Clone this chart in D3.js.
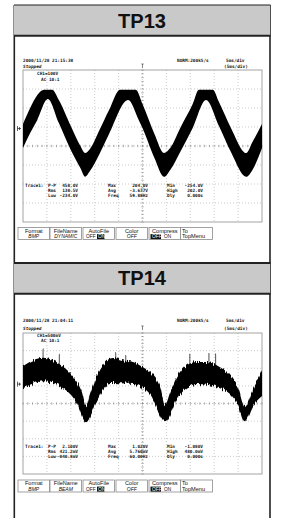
<!DOCTYPE html>
<html>
<head>
<meta charset="utf-8">
<script src="https://cdn.jsdelivr.net/npm/d3@7"></script>
<style>
body { margin: 0; background: #fff; }
svg text { font-family: "DejaVu Sans Mono", monospace; fill: #111; }
.scr text { font-weight: bold; }
.key text { font-family: "Liberation Sans", Arial, sans-serif; }
</style>
</head>
<body>
<div id="chart"></div>
<script>
var timeDomain = [0, 50];           // ms, 10 div x 5 ms/div
var titles = ["TP13", "TP14"];
var dates = ["2000/11/28 21:15:38", "2000/11/28 21:04:11"];
var chLabels = ["CH1=100V", "CH1=500mV"];
var voltsPerDiv = [100, 0.5];

// TP13 band, upper and lower edge (ms, V)
var tp13UpperT = [0, 1.5, 3, 4.4, 6.1, 7.5, 10, 12, 13, 14, 16, 18, 20.3, 23.6, 25, 27.5, 29.5, 30.8, 33, 35.5, 36.8, 39.7, 41, 43.5, 46.7, 48, 50];
var tp13UpperV = [24, 108, 176, 204, 204, 150, 13, -92, -129, -108, -8, 97, 204, 204, 129, -29, -129, -103, 8, 129, 204, 204, 139, 3, -129, -71, 24];
var tp13LowerT = [0, 1.5, 3, 5.2, 7.5, 10, 12, 13, 14, 16, 18, 22, 24.2, 25, 27.5, 29.5, 30.8, 33, 35.5, 38.3, 41, 43.5, 46.7, 48, 50];
var tp13LowerV = [-103, -24, 45, 155, 29, -113, -208, -254, -224, -134, -29, 150, 45, 3, -155, -254, -218, -118, 3, 150, 13, -124, -254, -218, -103];

// TP14 band, upper and lower edge (ms, V)
var tp14UpperT = [0, 2.1, 4.2, 6.3, 8.4, 10.5, 12.3, 13.2, 14.0, 15.5, 16.7, 18.8, 20.9, 23.0, 25.1, 27.2, 28.7, 29.7, 30.8, 32.2, 34.3, 36.4, 38.5, 41.2, 43.3, 45.0, 46.4, 47.9, 50];
var tp14UpperV = [0.51, 0.68, 0.75, 0.68, 0.49, 0.21, -0.22, -0.63, -0.31, 0.26, 0.54, 0.74, 0.68, 0.63, 0.48, 0.26, -0.09, -0.60, -0.23, 0.20, 0.54, 0.63, 0.63, 0.48, 0.26, -0.11, -0.65, -0.23, 0.40];
var tp14LowerT = [0, 4.2, 8.4, 11.3, 13.2, 15.1, 18.2, 23.0, 26.6, 29.7, 32.2, 36.4, 41.2, 44.8, 46.4, 48.1, 50];
var tp14LowerV = [-0.12, 0.08, -0.12, -0.54, -1.08, -0.57, 0.03, 0.0, -0.29, -1.08, -0.43, 0.0, -0.12, -0.54, -1.08, -0.63, -0.34];
// tall glitches above the TP14 band (ms, V)
var tp14SpikeT = [4.2, 7.6, 19.4, 21.5, 34.9, 38.9, 40.3];
var tp14SpikeV = [1.02, 0.86, 0.88, 0.84, 0.86, 0.91, 0.84];

// measurement readouts
var statNames = [["P-P", "Max", "Min"], ["Rms", "Avg", "High"], ["Low", "Freq", "Dly"]];
var tp13Stats = [["458.0V", "204.0V", "-254.0V"], ["138.5V", "-3.677V", "202.0V"], ["-234.0V", "59.88Hz", "0.000s"]];
var tp14Stats = [["2.100V", "1.020V", "-1.080V"], ["421.2mV", "5.760mV", "480.0mV"], ["-840.8mV", "60.00Hz", "0.000s"]];

// soft key menu
var keyTop = ["Format", "FileName", "AutoFile", "Color", "Compress", "To"];
var keyBottom13 = ["BMP", "DYNAMIC", "", "OFF", "", "TopMenu"];
var keyBottom14 = ["BMP", "BEAM", "", "OFF", "", "TopMenu"];

// ---- drawing ----
var W = 287, H = 518;
var svg = d3.select("#chart").append("svg")
    .attr("width", W)
    .attr("height", H);

svg.append("rect").attr("width", W).attr("height", H).attr("fill", "#fff");

var defs = svg.append("defs");
var noise = defs.append("filter")
    .attr("id", "fuzz")
    .attr("x", "-5%").attr("y", "-30%")
    .attr("width", "110%").attr("height", "160%");
noise.append("feTurbulence")
    .attr("type", "fractalNoise")
    .attr("baseFrequency", "0.9 0.03")
    .attr("numOctaves", 2)
    .attr("seed", 4)
    .attr("result", "n");
noise.append("feColorMatrix")
    .attr("in", "n")
    .attr("type", "matrix")
    .attr("values", "0 0 0 0 0.5  0 1 0 0 0  0 0 0 0 0  0 0 0 0 1")
    .attr("result", "m");
noise.append("feDisplacementMap")
    .attr("in", "SourceGraphic")
    .attr("in2", "m")
    .attr("scale", 8)
    .attr("xChannelSelector", "R")
    .attr("yChannelSelector", "G");

var panels = [
    {
        bandTop: 5, bandBottom: 35, titleY: 28,
        gx0: 23, gx1: 262, gy0: 70, gy1: 222, gndDiv: 0.92,
        headY: [62, 67.5], chY: [75, 81], statY: [187, 192, 197], keyY: [227.5, 239.5],
        upper: d3.zip(tp13UpperT, tp13UpperV), lower: d3.zip(tp13LowerT, tp13LowerV),
        spikes: [], stats: tp13Stats, keyBottom: keyBottom13, fuzzy: false
    },
    {
        bandTop: 263, bandBottom: 293, titleY: 285,
        gx0: 23, gx1: 262, gy0: 333, gy1: 474, gndDiv: 1.1,
        headY: [322, 329.5], chY: [336.5, 342], statY: [447.5, 452.5, 457.5], keyY: [480, 492],
        upper: d3.zip(tp14UpperT, tp14UpperV), lower: d3.zip(tp14LowerT, tp14LowerV),
        spikes: d3.zip(tp14SpikeT, tp14SpikeV), stats: tp14Stats, keyBottom: keyBottom14, fuzzy: true
    }
];

// outer frame
svg.append("line").attr("x1", 14.3).attr("x2", 14.3).attr("y1", 5).attr("y2", H)
    .attr("stroke", "#222").attr("stroke-width", 1.6);
svg.append("line").attr("x1", 270).attr("x2", 270).attr("y1", 5).attr("y2", H)
    .attr("stroke", "#222").attr("stroke-width", 1.6);

panels.forEach(function(p, i) {
    var g = svg.append("g");

    // title band
    g.append("rect")
        .attr("x", 14).attr("y", p.bandTop)
        .attr("width", 256).attr("height", p.bandBottom - p.bandTop)
        .attr("fill", "#c9c9c9");
    g.append("line").attr("x1", 14).attr("x2", 270.5)
        .attr("y1", p.bandTop).attr("y2", p.bandTop)
        .attr("stroke", "#222").attr("stroke-width", i == 0 ? 1.2 : 2);
    g.append("line").attr("x1", 14).attr("x2", 270.5)
        .attr("y1", p.bandBottom + 0.8).attr("y2", p.bandBottom + 0.8)
        .attr("stroke", "#222").attr("stroke-width", 2);
    g.append("text")
        .attr("x", 118).attr("y", p.titleY)
        .attr("textLength", 48).attr("lengthAdjust", "spacingAndGlyphs")
        .style("font-family", "'Liberation Sans Narrow', 'Liberation Sans', Arial, sans-serif")
        .style("font-weight", "bold")
        .style("font-size", "21px")
        .text(titles[i]);

    var x = d3.scaleLinear().domain(timeDomain).range([p.gx0, p.gx1]);
    var div = d3.scaleLinear().domain([-4, 4]).range([p.gy1, p.gy0]);
    var vd = voltsPerDiv[i];
    var y = d3.scaleLinear()
        .domain([-(4 + p.gndDiv) * vd, (4 - p.gndDiv) * vd])
        .range([p.gy1, p.gy0]);

    // grid
    var grid = g.append("g").attr("stroke", "#b5b5b5").attr("stroke-width", 0.7)
        .attr("stroke-dasharray", "1,2");
    grid.selectAll(".vl").data(d3.range(5, 50, 5)).enter().append("line")
        .attr("x1", function(d) { return x(d); }).attr("x2", function(d) { return x(d); })
        .attr("y1", p.gy0).attr("y2", p.gy1);
    grid.selectAll(".hl").data(d3.range(-3, 4)).enter().append("line")
        .attr("y1", function(d) { return div(d); }).attr("y2", function(d) { return div(d); })
        .attr("x1", p.gx0).attr("x2", p.gx1);

    // centre axes with minor ticks
    var ax = g.append("g").attr("stroke", "#777").attr("stroke-width", 0.6);
    var xc = x(25), yc = div(0);
    ax.selectAll(".tx").data(d3.range(0, 50.01, 1)).enter().append("line")
        .attr("x1", function(d) { return x(d); }).attr("x2", function(d) { return x(d); })
        .attr("y1", yc - 1.2).attr("y2", yc + 1.2);
    ax.selectAll(".ty").data(d3.range(-4, 4.01, 0.2)).enter().append("line")
        .attr("y1", function(d) { return div(d); }).attr("y2", function(d) { return div(d); })
        .attr("x1", xc - 1.2).attr("x2", xc + 1.2);
    g.append("rect")
        .attr("x", p.gx0).attr("y", p.gy0)
        .attr("width", p.gx1 - p.gx0).attr("height", p.gy1 - p.gy0)
        .attr("fill", "none").attr("stroke", "#9a9a9a").attr("stroke-width", 0.9);

    // waveform band
    var line = d3.line()
        .x(function(d) { return x(d[0]); })
        .y(function(d) { return y(d[1]); })
        .curve(d3.curveMonotoneX);
    var top = line(p.upper);
    var bottom = line(p.lower.slice().reverse()).replace(/^M/, "L");
    var trace = g.append("g");
    if (p.fuzzy) trace.attr("filter", "url(#fuzz)");
    trace.append("path")
        .attr("d", top + bottom + "Z")
        .attr("fill", "#000");
    trace.selectAll(".spike").data(p.spikes).enter().append("line")
        .attr("x1", function(d) { return x(d[0]); }).attr("x2", function(d) { return x(d[0]); })
        .attr("y1", function(d) { return y(d[1]); })
        .attr("y2", function(d) { return y(d[1] - 0.4); })
        .attr("stroke", "#000").attr("stroke-width", 0.7);

    // ground marker
    var gy = y(0);
    g.append("path")
        .attr("d", "M17.5," + (gy - 2.5) + "L17.5," + (gy + 2.5) + "M17.5," + gy + "L21," + gy +
            "M19.5," + (gy - 1.5) + "L19.5," + (gy + 1.5))
        .attr("stroke", "#222").attr("stroke-width", 0.7).attr("fill", "none");

    // header and readouts
    var scr = g.append("g").attr("class", "scr");
    var hs = "4.4px";
    scr.append("text").attr("x", p.gx0).attr("y", p.headY[0]).style("font-size", hs).text(dates[i]);
    scr.append("text").attr("x", p.gx0).attr("y", p.headY[1]).style("font-size", hs)
        .style("font-style", "italic").text("Stopped");
    scr.append("text").attr("x", 177).attr("y", p.headY[0]).style("font-size", hs).text("NORM:200kS/s");
    scr.append("text").attr("x", 226).attr("y", p.headY[0]).style("font-size", hs).text("5ms/div");
    scr.append("text").attr("x", 224).attr("y", p.headY[1]).style("font-size", hs).text("(5ms/div)");
    g.append("path")
        .attr("d", "M" + (xc - 1.2) + "," + (p.headY[1] - 3.5) + "L" + (xc + 1.2) + "," + (p.headY[1] - 3.5) +
            "M" + xc + "," + (p.headY[1] - 3.5) + "L" + xc + "," + (p.headY[1] + 0.5))
        .attr("stroke", "#333").attr("stroke-width", 0.6);
    scr.append("text").attr("x", 37).attr("y", p.chY[0]).style("font-size", hs).text(chLabels[i]);
    scr.append("text").attr("x", 41).attr("y", p.chY[1]).style("font-size", hs).text("AC  10:1");

    scr.append("text").attr("x", 25).attr("y", p.statY[0]).style("font-size", hs).text("Trace1:");
    var colLabel = [48, 108, 167], colEnd = [78, 148, 203];
    statNames.forEach(function(row, r) {
        row.forEach(function(name, c) {
            scr.append("text").attr("x", colLabel[c]).attr("y", p.statY[r])
                .style("font-size", hs).text(name);
            scr.append("text").attr("x", colEnd[c]).attr("y", p.statY[r])
                .attr("text-anchor", "end")
                .style("font-size", hs).text(p.stats[r][c]);
        });
    });

    // soft keys
    var keys = g.append("g").attr("class", "key");
    var kx = [18, 50, 83, 116, 149, 180.5], kw = 31.5;
    var ky0 = p.keyY[0], ky1 = p.keyY[1];
    var t1 = ky0 + (ky1 - ky0) * 0.45, t2 = ky0 + (ky1 - ky0) * 0.9;
    keyTop.forEach(function(label, k) {
        keys.append("rect")
            .attr("x", kx[k]).attr("y", ky0)
            .attr("width", k == 5 ? 32 : kw).attr("height", ky1 - ky0)
            .attr("fill", "#fff").attr("stroke", "#8a8a8a").attr("stroke-width", 0.8);
        var cx = kx[k] + kw / 2;
        if (k == 5) {
            keys.append("text").attr("x", kx[k] + 1.5).attr("y", t1).style("font-size", "5.6px").text(label);
            keys.append("text").attr("x", kx[k] + 1.5).attr("y", t2).style("font-size", "5.6px").text(p.keyBottom[k]);
            return;
        }
        keys.append("text").attr("x", cx).attr("y", t1).attr("text-anchor", "middle")
            .style("font-size", "5.6px").text(label);
        if (k == 2 || k == 4) {
            var onFirst = k == 4;
            keys.append("rect")
                .attr("x", onFirst ? kx[k] + 1.5 : kx[k] + 14)
                .attr("y", t2 - 4.2).attr("width", onFirst ? 10.5 : 7.5).attr("height", 5)
                .attr("fill", "#111");
            keys.append("text").attr("x", kx[k] + 3).attr("y", t2).style("font-size", "4.8px")
                .style("fill", onFirst ? "#fff" : "#111").text("OFF");
            keys.append("text").attr("x", kx[k] + 15).attr("y", t2).style("font-size", "4.8px")
                .style("fill", onFirst ? "#111" : "#fff").text("ON");
        } else {
            keys.append("text").attr("x", cx).attr("y", t2).attr("text-anchor", "middle")
                .style("font-size", "5px").style("font-style", "italic").text(p.keyBottom[k]);
        }
    });
});
</script>
</body>
</html>
